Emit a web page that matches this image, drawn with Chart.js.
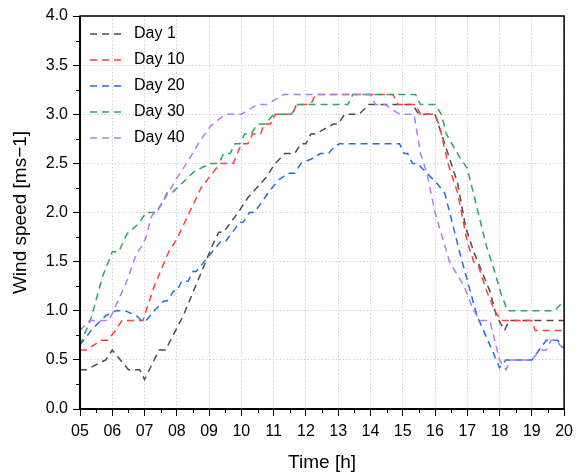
<!DOCTYPE html>
<html>
<head>
<meta charset="utf-8">
<script src="https://cdn.jsdelivr.net/npm/chart.js@4.4.0/dist/chart.umd.min.js"></script>
<style>
  html, body { margin: 0; padding: 0; background: #fff; }
  #wrap { width: 579px; height: 474px; }
</style>
</head>
<body>
<div id="wrap"><canvas id="wind"></canvas></div>
<script>
// time in hours, wind speed in m/s (vertices)
var day1Time  = [5.0,5.2,5.8,6.0,6.5,6.85,7.0,7.45,7.65,8.2,9.15,9.3,9.45,9.9,10.2,10.75,11.05,11.35,11.65,11.85,12.0,12.15,12.3,12.85,13.0,13.2,13.35,13.65,13.95,15.3,15.5,16.0,16.3,16.7,16.95,17.2,17.45,17.7,17.9,18.15,18.3,20.0];
var day1Speed = [0.4,0.4,0.5,0.6,0.4,0.4,0.3,0.6,0.6,0.95,1.7,1.8,1.8,2.0,2.15,2.35,2.5,2.6,2.6,2.7,2.7,2.8,2.8,2.9,2.9,3.0,3.0,3.0,3.1,3.1,3.0,3.0,2.7,2.3,1.85,1.6,1.4,1.2,0.95,0.8,0.9,0.9];

var day10Time  = [5.0,5.2,5.65,5.85,6.1,6.3,6.95,7.3,7.75,8.0,8.75,9.1,9.35,9.75,10.0,10.2,10.35,10.6,10.7,10.9,11.05,11.6,11.7,12.15,12.3,14.7,14.85,15.4,15.55,16.0,16.15,16.4,16.7,17.0,17.2,17.35,17.6,17.85,18.05,19.0,19.1,20.0];
var day10Speed = [0.6,0.6,0.7,0.7,0.8,0.9,0.9,1.25,1.6,1.73,2.25,2.4,2.5,2.5,2.7,2.7,2.8,2.8,2.9,2.9,3.0,3.0,3.1,3.1,3.2,3.2,3.1,3.1,3.0,3.0,2.87,2.5,2.2,1.7,1.5,1.45,1.2,1.0,0.9,0.9,0.8,0.8];

var day20Time  = [5.0,5.35,5.55,5.8,6.1,6.4,6.75,6.9,7.05,7.3,7.6,7.7,7.9,8.0,8.15,8.35,8.5,8.6,8.85,9.35,9.5,9.95,10.05,10.25,10.4,10.9,11.15,11.45,11.65,11.85,12.2,12.45,12.7,12.9,13.05,14.9,15.05,15.15,15.3,15.45,16.05,16.3,16.8,17.3,17.9,18.0,18.2,19.0,19.45,19.8,20.0];
var day20Speed = [0.65,0.8,0.87,0.95,1.0,1.0,0.95,0.9,0.9,1.0,1.1,1.1,1.2,1.2,1.3,1.3,1.4,1.4,1.5,1.7,1.7,1.9,1.9,2.0,2.0,2.23,2.33,2.4,2.4,2.5,2.55,2.6,2.6,2.68,2.7,2.7,2.6,2.6,2.5,2.5,2.3,2.2,1.55,0.95,0.5,0.42,0.5,0.5,0.7,0.7,0.62];

var day30Time  = [5.0,5.35,5.7,6.0,6.2,6.45,6.8,7.05,7.35,7.55,7.7,7.85,8.55,9.05,9.3,9.45,9.65,9.8,9.95,10.1,10.3,10.5,10.75,11.0,11.55,11.75,13.3,13.45,15.4,15.55,16.0,16.2,16.35,16.75,17.0,17.3,17.6,17.8,18.05,18.25,19.7,20.0];
var day30Speed = [0.65,0.93,1.35,1.6,1.6,1.78,1.88,2.0,2.0,2.1,2.2,2.2,2.42,2.5,2.5,2.6,2.6,2.7,2.7,2.8,2.8,2.9,2.9,3.0,3.0,3.1,3.1,3.2,3.2,3.1,3.1,3.0,2.8,2.57,2.45,2.05,1.65,1.45,1.17,1.0,1.0,1.1];

var day40Time  = [5.0,5.3,5.9,6.45,6.75,6.9,7.05,7.2,7.3,7.38,8.0,8.4,8.7,9.05,9.5,10.0,10.5,10.8,11.3,14.0,14.15,14.45,14.9,15.35,15.55,15.75,16.0,16.45,16.9,17.2,17.4,17.7,17.85,18.0,18.2,18.35,19.0,19.25,19.45,19.6,19.75,20.0];
var day40Speed = [0.8,0.9,0.9,1.3,1.58,1.65,1.75,1.95,2.0,2.0,2.35,2.55,2.72,2.88,3.0,3.0,3.1,3.1,3.2,3.2,3.1,3.1,3.0,3.0,2.6,2.4,2.0,1.5,1.25,1.0,0.9,0.9,0.7,0.5,0.4,0.5,0.5,0.6,0.6,0.7,0.7,0.6];

var seriesNames  = ['Day 1','Day 10','Day 20','Day 30','Day 40'];
var seriesColors = ['#4d4d4d','#ff4040','#1f6fe5','#2aa860','#b47cf0'];
var hourTicks = [5,6,7,8,9,10,11,12,13,14,15,16,17,18,19,20];

var FONT = 'Arial, "Liberation Sans", sans-serif';
var DASH = [7, 5];

function pts(t, v) {
  var out = [];
  for (var i = 0; i < t.length; i++) out.push({x: t[i], y: v[i]});
  return out;
}
var allData = [pts(day1Time, day1Speed), pts(day10Time, day10Speed), pts(day20Time, day20Speed), pts(day30Time, day30Speed), pts(day40Time, day40Speed)];

var datasets = [];
for (var i = 0; i < allData.length; i++) {
  datasets.push({
    label: seriesNames[i],
    data: allData[i],
    borderColor: seriesColors[i],
    backgroundColor: seriesColors[i],
    borderWidth: 1.5,
    borderDash: DASH,
    pointRadius: 0,
    tension: 0,
    order: 5 - i
  });
}

// box round the plot + minor ticks, legend pushed inside the plot
var framePlugin = {
  id: 'frame',
  afterLayout: function(chart) {
    var lg = chart.legend;
    if (lg) {
      var h = lg.bottom - lg.top;
      lg.top = chart.chartArea.top;
      lg.bottom = lg.top + h;
    }
  },
  afterDraw: function(chart) {
    var ctx = chart.ctx, a = chart.chartArea, x = chart.scales.x, y = chart.scales.y;
    ctx.save();
    ctx.strokeStyle = '#000';
    ctx.lineWidth = 1;
    ctx.beginPath();
    for (var v = 0.25; v < 4; v += 0.5) {
      var py = Math.round(y.getPixelForValue(v)) + 0.5;
      ctx.moveTo(a.left - 4, py); ctx.lineTo(a.left, py);
    }
    for (var t = 5.5; t < 20; t += 1) {
      var px = Math.round(x.getPixelForValue(t)) + 0.5;
      ctx.moveTo(px, a.bottom); ctx.lineTo(px, a.bottom + 4);
    }
    ctx.stroke();
    ctx.lineWidth = 1.5;
    ctx.strokeRect(a.left, a.top, a.right - a.left, a.bottom - a.top);
    ctx.lineWidth = 2;
    ctx.beginPath();
    ctx.moveTo(a.left, a.top); ctx.lineTo(a.left, a.bottom); ctx.lineTo(a.right, a.bottom);
    ctx.stroke();
    ctx.restore();
  }
};

var chart = new Chart(document.getElementById('wind').getContext('2d'), {
  type: 'line',
  data: { datasets: datasets },
  plugins: [framePlugin],
  options: {
    responsive: true,
    maintainAspectRatio: false,
    animation: false,
    layout: { padding: { left: 5, right: 10, top: 16, bottom: 0 } },
    plugins: {
      tooltip: { enabled: false },
      legend: {
        position: 'chartArea',
        align: 'start',
        labels: {
          usePointStyle: true,
          pointStyle: 'line',
          pointStyleWidth: 36,
          padding: 10,
          color: '#000',
          font: { family: FONT, size: 16 },
          sort: function(a, b) { return a.datasetIndex - b.datasetIndex; },
          generateLabels: function(c) {
            var items = Chart.defaults.plugins.legend.labels.generateLabels(c);
            items.forEach(function(it) {
              it.lineDash = DASH;
              it.lineWidth = 1.5;
              it.strokeStyle = seriesColors[it.datasetIndex];
            });
            return items;
          }
        }
      }
    },
    scales: {
      x: {
        type: 'linear',
        min: 5,
        max: 20,
        afterBuildTicks: function(s) { s.ticks = hourTicks.map(function(h) { return {value: h}; }); },
        afterFit: function(s) { s.height = 65; },
        ticks: {
          color: '#000',
          font: { family: FONT, size: 16 },
          padding: 6,
          maxRotation: 0,
          callback: function(v) { return (v < 10 ? '0' : '') + v; }
        },
        grid: { color: '#d2d2d2', lineWidth: 1, tickLength: 7, tickColor: '#000', tickWidth: 1 },
        border: { display: false, dash: [1.5, 2] },
        title: { display: true, text: 'Time [h]', color: '#000', font: { family: FONT, size: 19 }, padding: { top: 4, bottom: 0 } }
      },
      y: {
        min: 0,
        max: 4,
        afterFit: function(s) { s.width = 75; },
        ticks: {
          stepSize: 0.5,
          color: '#000',
          font: { family: FONT, size: 16 },
          padding: 5,
          callback: function(v) { return v.toFixed(1); }
        },
        grid: { color: '#d2d2d2', lineWidth: 1, tickLength: 7, tickColor: '#000', tickWidth: 1 },
        border: { display: false, dash: [1.5, 2] },
        title: { display: true, text: 'Wind speed [ms\u22121]', color: '#000', font: { family: FONT, size: 19 }, padding: { top: 4, bottom: 2 } }
      }
    }
  }
});
</script>
</body>
</html>
